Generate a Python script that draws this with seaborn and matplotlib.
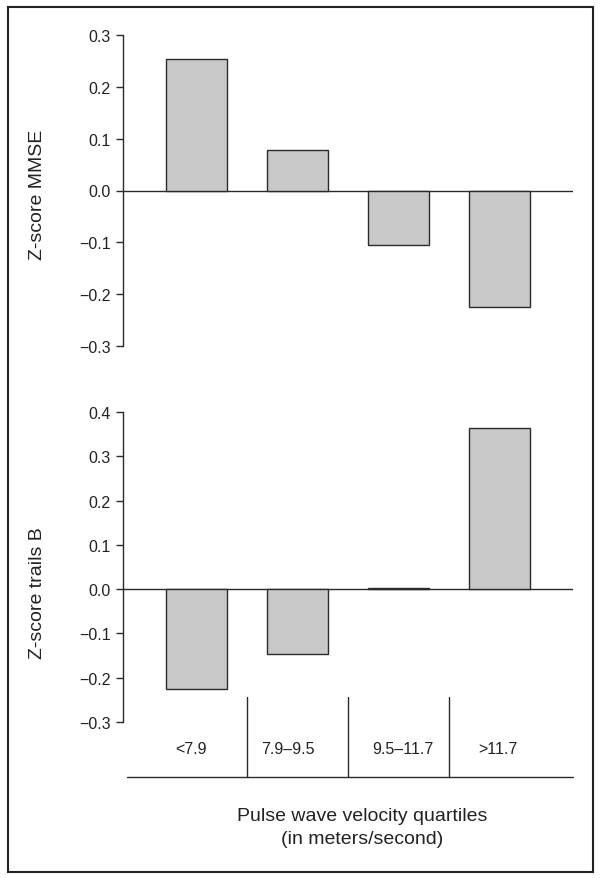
import matplotlib
matplotlib.use("Agg")
import matplotlib.pyplot as plt
import seaborn as sns
import pandas as pd
from matplotlib.patches import Rectangle

categories = ["<7.9", "7.9\u20139.5", "9.5\u201311.7", ">11.7"]
mmse = [0.253, 0.079, -0.105, -0.225]
trails_b = [-0.226, -0.147, 0.003, 0.364]
top_ticks = [-0.3, -0.2, -0.1, 0.0, 0.1, 0.2, 0.3]
bottom_ticks = [-0.3, -0.2, -0.1, 0.0, 0.1, 0.2, 0.3, 0.4]

sns.set_theme(style="white")
plt.rcParams["font.family"] = ["Liberation Sans", "DejaVu Sans"]

W, H = 602, 879
fig = plt.figure(figsize=(W / 100, H / 100), dpi=100)

def fx(px):
    return px / W

def fy(py):
    return 1 - py / H

left, right = 123, 573
ax1 = fig.add_axes([fx(left), fy(347), fx(right - left), fy(36) - fy(347)])
ax2 = fig.add_axes([fx(left), fy(723), fx(right - left), fy(413) - fy(723)])

df1 = pd.DataFrame({"cat": categories, "val": mmse})
df2 = pd.DataFrame({"cat": categories, "val": trails_b})

for ax, df, ticks, lab in [(ax1, df1, top_ticks, "Z-score MMSE"),
                           (ax2, df2, bottom_ticks, "Z-score trails B")]:
    sns.barplot(data=df, x="cat", y="val", ax=ax, color="#c8c8c8",
                edgecolor="#2a2a2a", linewidth=1.0, width=0.6, saturation=1)
    ax.set_xlim(-0.73, 3.73)
    ax.set_ylim(ticks[0], ticks[-1])
    ax.set_yticks(ticks)
    ax.set_yticklabels(["\u2212" + f"{abs(t):.1f}" if t < 0 else f"{t:.1f}" for t in ticks])
    ax.axhline(0, color="#2a2a2a", lw=1.0, zorder=0.5)
    for s in ["top", "right", "bottom"]:
        ax.spines[s].set_visible(False)
    ax.spines["left"].set_color("#2a2a2a")
    ax.spines["left"].set_linewidth(1.0)
    ax.tick_params(axis="y", left=True, length=5, width=1.0, color="#2a2a2a",
                   labelsize=11.5, labelcolor="#222222", pad=4, direction="out")
    ax.set_xticks([])
    ax.set_xlabel("")
    ax.set_ylabel(lab, fontsize=14, color="#222222")
    ax.patch.set_alpha(0)

ax1.yaxis.set_label_coords(-0.172, 0.49)
ax2.yaxis.set_label_coords(-0.172, 0.42)

# category table under the bottom panel
tr = ax2.get_xaxis_transform()
for xb in [0.5, 1.5, 2.5]:
    ax2.plot([xb, xb], [0.081, -0.177], transform=tr, color="#2a2a2a", lw=1.0, clip_on=False)
ax2.plot([-0.69, 3.73], [-0.177, -0.177], transform=tr, color="#2a2a2a", lw=1.0, clip_on=False)
label_x = [-0.06, 0.9, 2.04, 2.99]
for xl, c in zip(label_x, categories):
    ax2.text(xl, -0.084, c, transform=tr, ha="center", va="center", fontsize=11.5, color="#222222")

fig.text(fx(362), fy(817), "Pulse wave velocity quartiles", ha="center", va="center", fontsize=14, color="#222222")
fig.text(fx(362), fy(840), "(in meters/second)", ha="center", va="center", fontsize=14, color="#222222")

fig.add_artist(Rectangle((fx(8), fy(873)), fx(593 - 8), fy(8) - fy(873), transform=fig.transFigure,
                         fill=False, edgecolor="#222222", lw=1.5))

fig.savefig("out.png", dpi=100, facecolor="white")
